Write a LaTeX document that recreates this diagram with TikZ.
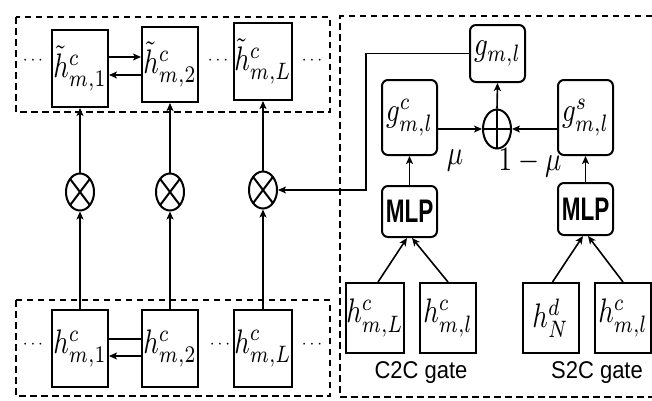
\documentclass[tikz,border=0pt]{standalone}
\usepackage{fontspec}
\setsansfont{Liberation Sans}
\usetikzlibrary{arrows.meta,shapes.geometric}
\newcommand{\mt}[1]{\scalebox{2.7}[3.4]{$#1$}}
\begin{document}
\begin{tikzpicture}[x=1pt,y=-1pt,
  sqbox/.style={draw,line width=2pt,minimum width=56pt,minimum height=77pt,inner sep=0pt},
  rbox/.style={draw,line width=2pt,rounded corners=6pt,minimum width=55pt,inner sep=0pt},
  ot/.style={draw,ellipse,line width=2pt,minimum width=28pt,minimum height=37pt,inner sep=0pt,
    path picture={\draw[line width=2pt] (path picture bounding box.north west)--(path picture bounding box.south east)
      (path picture bounding box.north east)--(path picture bounding box.south west);}},
  op/.style={draw,ellipse,line width=2pt,minimum width=28pt,minimum height=39pt,inner sep=0pt,
    path picture={\draw[line width=2pt] (path picture bounding box.north)--(path picture bounding box.south)
      (path picture bounding box.east)--(path picture bounding box.west);}},
  arr/.style={line width=1.6pt,-{Stealth[length=8pt,width=7pt,inset=2pt]}},
  ln/.style={line width=1.6pt},
  dashbox/.style={line width=1.7pt,dash pattern=on 6.5pt off 4.5pt},
  dots/.style={inner sep=0pt,font=\fontsize{16}{18}\selectfont},
  mlptxt/.style={font=\fontsize{22.5}{25}\selectfont\sffamily\bfseries},
  gatetxt/.style={inner sep=0pt,font=\fontsize{22}{26}\selectfont\sffamily}
]
\useasboundingbox (0,0) rectangle (652,400);
% dashed frames
\draw[dashbox] (16,17) rectangle (330,112);
\draw[dashbox] (16,300) rectangle (330,396);
\draw[dashbox] (652,16) -- (340,16) -- (340,397) -- (652,397);
% top row
\node[sqbox] (t1) at (80,68.5) {\mt{\tilde{h}^{c}_{m,1}}};
\node[sqbox,minimum height=75pt] (t2) at (170,64.5) {\mt{\tilde{h}^{c}_{m,2}}};
\node[sqbox] (t3) at (263,61.5) {\mt{\tilde{h}^{c}_{m,L}}};
\node[dots] (d1) at (33,61) {$\cdots$};
\node[dots] (d2) at (218,61) {$\cdots$};
\node[dots] (d3) at (312,61) {$\cdots$};
% bottom row
\node[sqbox] (b1) at (80,348.5) {\mt{h^{c}_{m,1}}};
\node[sqbox] (b2) at (170,348.5) {\mt{h^{c}_{m,2}}};
\node[sqbox] (b3) at (263,348.5) {\mt{h^{c}_{m,L}}};
\node[dots] (e1) at (33,345) {$\cdots$};
\node[dots] (e2) at (220,345) {$\cdots$};
\node[dots] (e3) at (312,345) {$\cdots$};
% otimes
\node[ot] (o1) at (80,192) {};
\node[ot] (o2) at (170,192) {};
\node[ot] (o3) at (263,190) {};
% column connectors
\foreach \i in {1,2,3}{
  \draw[arr] (b\i.north) -- (o\i.south);
  \draw[arr] (o\i.north) -- (t\i.south);
}
% horizontal arrows between boxes
\draw[arr] (t1.east |- 0,57) -- (t2.west |- 0,57);
\draw[arr] (t2.west |- 0,75) -- (t1.east |- 0,75);
\draw[ln] (b1.east |- 0,339) -- (b2.west |- 0,339);
\draw[arr] (b2.west |- 0,356) -- (b1.east |- 0,356);
% right part
\node[rbox,minimum height=57pt] (gml) at (497.5,53.5) {\mt{g_{m,l}}};
\node[rbox,minimum height=75pt] (gc) at (409.5,117.5) {\mt{g^{c}_{m,l}}};
\node[rbox,minimum height=75pt] (gs) at (585.5,117.5) {\mt{g^{s}_{m,l}}};
\node[op] (opl) at (497,129) {};
\draw[arr] (gc.east |- opl) -- (opl.west);
\draw[arr] (gs.west |- opl) -- (opl.east);
\draw[arr] (opl.north) -- (gml.south);
\coordinate (k) at (366,0);
\draw[arr] (gml.west) -| (k |- o3.east) -- (o3.east);
\node[inner sep=0pt] (mu) at (455,160) {\mt{\mu}};
\node[inner sep=0pt] (omu) at (530,163) {\mt{1-\mu}};
\node[rbox,minimum height=51pt,mlptxt] (m1) at (409.5,211.5) {\scalebox{1}[1.45]{MLP}};
\node[rbox,minimum height=52pt,mlptxt] (m2) at (585.5,209) {\scalebox{1}[1.45]{MLP}};
\draw[arr] (m1.north) -- (gc.south);
\draw[arr] (m2.north) -- (gs.south);
\node[sqbox,minimum height=70pt] (hL) at (375,318) {\mt{h^{c}_{m,L}}};
\node[sqbox,minimum height=70pt] (hl1) at (448,318) {\mt{h^{c}_{m,l}}};
\node[sqbox,minimum height=70pt] (hN) at (550.5,318) {\mt{h^{d}_{N}}};
\node[sqbox,minimum height=70pt] (hl2) at (623,318) {\mt{h^{c}_{m,l}}};
\draw[arr] ([xshift=3pt]hL.north) -- ([xshift=-2.5pt]m1.south);
\draw[arr] (hl1.north) -- ([xshift=2.5pt]m1.south);
\draw[arr] ([xshift=2pt]hN.north) -- ([xshift=-2.5pt]m2.south);
\draw[arr] (hl2.north) -- ([xshift=2.5pt]m2.south);
\node[gatetxt] (c2c) at (421,373) {\scalebox{1}[1.1]{C2C gate}};
\node[gatetxt] (s2c) at (597,373) {\scalebox{1}[1.1]{S2C gate}};
\end{tikzpicture}
\end{document}
